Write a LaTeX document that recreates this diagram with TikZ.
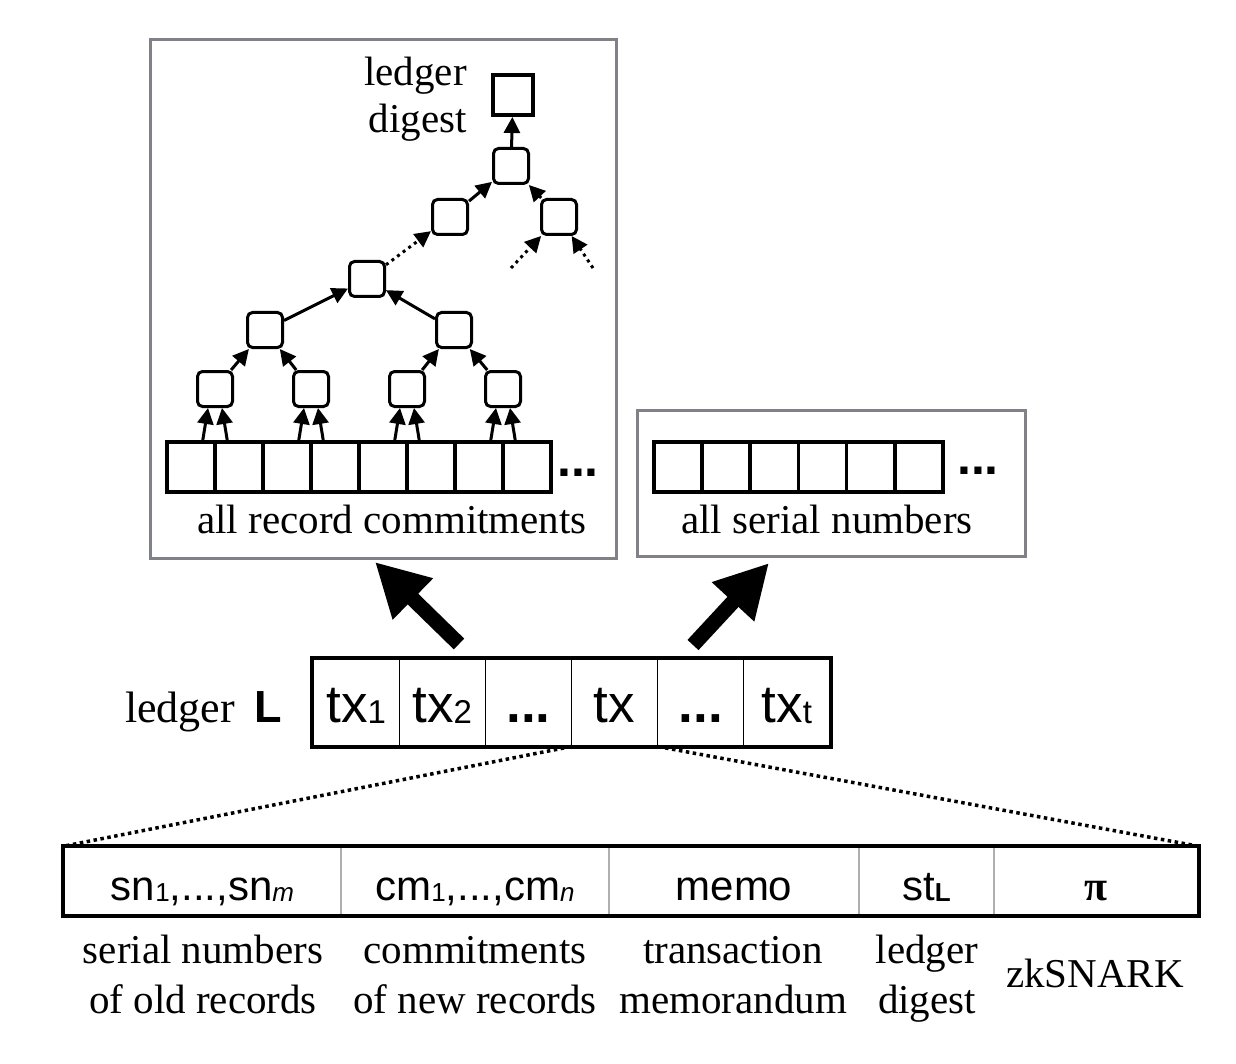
\documentclass[tikz,border=0pt]{standalone}
\usepackage{fontspec}
\setmainfont{Liberation Serif}
\setsansfont{Liberation Sans}
\usetikzlibrary{arrows.meta,calc}
\definecolor{boxgray}{RGB}{128,130,135}
\definecolor{divgray}{RGB}{175,175,175}
\newcommand\lblfont{\fontsize{41}{50}\selectfont}
\newcommand\toplblfont{\fontsize{41}{47}\selectfont}
\newcommand\cellfont{\sffamily\fontsize{42}{48}\selectfont}
\newcommand\ledgerfont{\sffamily\fontsize{53}{60}\selectfont}
\newcommand\lsub[1]{\raisebox{-1.5pt}{\fontsize{33}{33}\selectfont #1}}
\newcommand\bsub[1]{\raisebox{-1pt}{\fontsize{26}{26}\selectfont #1}}
\begin{document}
\begin{tikzpicture}[x=1pt,y=-1pt,
  tnode/.style={draw, line width=3pt, rounded corners=5pt, minimum size=35pt, inner sep=0pt},
  rootnode/.style={draw, line width=4pt, minimum size=40pt, inner sep=0pt},
  acell/.style={draw, line width=3.5pt, minimum width=48pt, minimum height=50pt, inner sep=0pt},
  tedge/.style={line width=3pt, -{Triangle[length=16pt,width=16pt]}},
  dedge/.style={tedge, dash pattern=on 3pt off 4pt},
  gbox/.style={draw=boxgray, line width=3pt, inner sep=0pt},
  lcell/.style={draw, line width=1.2pt, minimum width=86.17pt, minimum height=87pt, inner sep=0pt, font=\ledgerfont, text height=44pt, text depth=5pt},
  bcell/.style={draw=divgray, line width=1.5pt, minimum height=68pt, inner sep=0pt, font=\cellfont, text height=40pt, text depth=2pt},
  lbl/.style={font=\lblfont, align=center, inner sep=0pt},
  bigarrow/.style={line width=15pt, -{Triangle[length=53pt,width=54pt]}},
  dotline/.style={line width=3.5pt, dash pattern=on 3.5pt off 3.5pt},
  dots/.style={font=\sffamily\bfseries\fontsize{50}{50}\selectfont, inner sep=0pt}
]
\useasboundingbox (0,0) rectangle (1236,1064);

% gray containers
\node[gbox, minimum width=466pt, minimum height=518pt] (tbox) at (383,299) {};
\node[gbox, minimum width=388pt, minimum height=146pt] (sbox) at (831,483) {};

% tree
\node[rootnode] (root) at (513,95) {};
\node[font=\toplblfont, align=right, inner sep=0pt, anchor=base east] (rootlbl) at (467,133) {ledger\\digest};
\node[tnode] (n1) at (511,166) {};
\node[tnode] (n2L) at (450,217) {};
\node[tnode] (n2R) at (559,217) {};
\node[tnode] (m) at (367,279) {};
\node[tnode] (n3L) at (265,330) {};
\node[tnode] (n3R) at (454,330) {};
\node[tnode] (b1) at (215,389) {};
\node[tnode] (b2) at (311,389) {};
\node[tnode] (b3) at (407,389) {};
\node[tnode] (b4) at (503,389) {};
\coordinate (d1) at (511,268);
\coordinate (d2) at (593,268);

% record commitments array
\foreach \i in {1,...,8} {
  \node[acell] (c\i) at ({191+48*(\i-1)},467) {};
}
\node[dots, anchor=base] (cdots) at (578,476) {...};
\node[lbl, anchor=base] (clbl) at (392,533) {all record commitments};

% serial numbers array
\foreach \i in {1,...,6} {
  \node[acell] (s\i) at ({678+48.17*(\i-1)},467) {};
}
\node[dots, anchor=base] (sdots) at (978,474) {...};
\node[lbl, anchor=base] (slbl) at (827,533) {all serial numbers};

% tree edges
\draw[tedge] (n1) -- (root);
\draw[tedge] (n2L) -- (n1);
\draw[tedge] (n2R) -- (n1);
\draw[dedge] (m) -- (n2L);
\draw[dedge] (d1) -- (n2R);
\draw[dedge] (d2) -- (n2R);
\draw[tedge] (n3L) -- (m);
\draw[tedge] (n3R) -- (m);
\draw[tedge] (b1) -- (n3L);
\draw[tedge] (b2) -- (n3L);
\draw[tedge] (b3) -- (n3R);
\draw[tedge] (b4) -- (n3R);
\foreach \b/\l/\r in {b1/c1/c2, b2/c3/c4, b3/c5/c6, b4/c7/c8} {
  \draw[tedge] ($(\l.north east)+(-14,0)$) -- ($(\b.south)+(-7,0)$);
  \draw[tedge] ($(\r.north west)+(14,0)$) -- ($(\b.south)+(7,0)$);
}

% ledger row
\node[inner sep=0pt, anchor=base west, font=\fontsize{44}{50}\selectfont] (ledgerlbl) at (125,722)
  {ledger\hspace{19pt}{\sffamily\bfseries\fontsize{45}{45}\selectfont L}};
\node[lcell] (L1) at (356.1,702.5) {tx\lsub{1}};
\node[lcell] (L2) at (442.3,702.5) {tx\lsub{2}};
\node[lcell, font=\ledgerfont\bfseries] (L3) at (528.4,702.5) {...};
\node[lcell] (L4) at (614.6,702.5) {tx};
\node[lcell, font=\ledgerfont\bfseries] (L5) at (700.8,702.5) {...};
\node[lcell] (L6) at (786.9,702.5) {tx\lsub{t}};
\draw[line width=4pt] (L1.north west) rectangle (L6.south east);

% big arrows
\coordinate (a1s) at (459,644);
\coordinate (a1e) at (375,562);
\coordinate (a2s) at (693,645);
\coordinate (a2e) at (769,563);
\draw[bigarrow] (a1s) -- (a1e);
\draw[bigarrow] (a2s) -- (a2e);

% transaction fields
\node[bcell, minimum width=277pt] (B1) at (202.5,881) {sn\bsub{1},...,sn\bsub{\textit{m}}};
\node[bcell, minimum width=268pt] (B2) at (475,881) {cm\bsub{1},...,cm\bsub{\textit{n}}};
\node[bcell, minimum width=250pt] (B3) at (734,881) {memo};
\node[bcell, minimum width=135pt] (B4) at (926.5,881) {st\bsub{\textbf{L}}};
\node[bcell, minimum width=204pt] (B5) at (1096,881) {\rmfamily\bfseries π};
\draw[line width=4pt] (B1.north west) rectangle (B5.south east);

% zoom lines
\draw[dotline] (L4.south west) -- (B1.north west);
\draw[dotline] (L4.south east) -- (B5.north east);

% labels
\node[lbl, anchor=base] (t1) at (203,1013) {serial numbers\\of old records};
\node[lbl, anchor=base] (t2) at (475,1013) {commitments\\of new records};
\node[lbl, anchor=base] (t3) at (733,1013) {transaction\\memorandum};
\node[lbl, anchor=base] (t4) at (927,1013) {ledger\\digest};
\node[lbl, anchor=base] (t5) at (1095,987) {zkSNARK};
\end{tikzpicture}
\end{document}
